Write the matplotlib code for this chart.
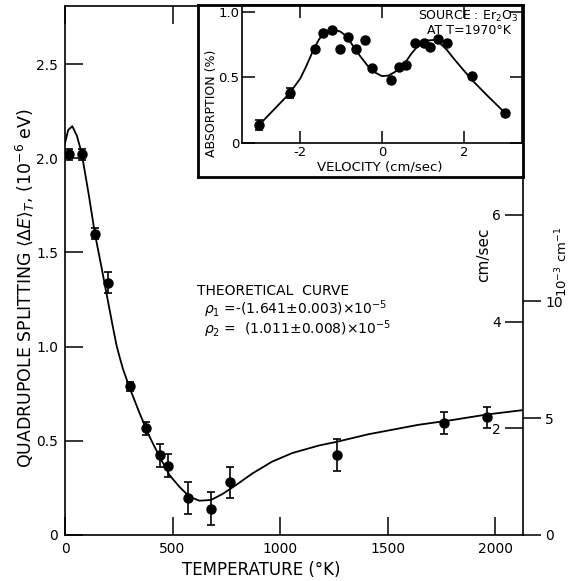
import matplotlib.pyplot as plt

plt.rcParams["font.family"] = ["DejaVu Sans"]
plt.rcParams["mathtext.fontset"] = "dejavusans"

# measured quadrupole splitting (10^-6 eV) against temperature (K)
TEMP_K = [20, 80, 139, 202, 301, 375, 443, 478, 574, 677, 768, 1265, 1762, 1964]
SPLIT = [2.02, 2.02, 1.60, 1.34, 0.79, 0.566, 0.423, 0.368, 0.195, 0.14, 0.28, 0.425, 0.596, 0.625]
SPLIT_ERR = [0.027, 0.027, 0.03, 0.057, 0.024, 0.033, 0.06, 0.06, 0.084, 0.088, 0.082, 0.084, 0.058, 0.055]

# theoretical curve
CURVE_T = [0, 15, 34, 55, 77, 110, 139, 170, 200, 220, 239, 255, 270, 301, 347, 394, 440, 486,
           532, 579, 625, 679, 733, 795, 872, 964, 1057, 1181, 1265, 1412, 1644, 1800, 1964, 2130]
CURVE_E = [2.08, 2.15, 2.17, 2.12, 2.03, 1.81, 1.60, 1.42, 1.24, 1.12, 1.01, 0.94, 0.88, 0.78, 0.646, 0.52,
           0.415, 0.318, 0.256, 0.203, 0.182, 0.186, 0.218, 0.265, 0.327, 0.39, 0.435, 0.475, 0.495,
           0.535, 0.585, 0.61, 0.64, 0.663]

# inset: absorption spectrum at 1970 K
VEL = [-3.0, -2.26, -1.63, -1.45, -1.23, -1.02, -0.84, -0.64, -0.42, -0.24,
       0.22, 0.41, 0.59, 0.80, 1.02, 1.17, 1.37, 1.59, 2.19, 3.0]
ABS = [0.137, 0.38, 0.72, 0.84, 0.86, 0.715, 0.81, 0.715, 0.786, 0.57,
       0.48, 0.58, 0.595, 0.766, 0.766, 0.735, 0.79, 0.766, 0.51, 0.226]
ERR_VEL = [-3.0, -2.26]
ERR_ABS = [0.137, 0.38]
ERR_SIZE = [0.04, 0.04]

FIT_VEL = [-2.95, -2.61, -2.26, -1.995, -1.84, -1.68, -1.55, -1.43, -1.27, -1.15, -1.02, -0.86,
           -0.70, -0.54, -0.37, -0.21, -0.01, 0.15, 0.32, 0.52, 0.72, 0.89, 1.05, 1.25, 1.41,
           1.58, 1.74, 1.98, 2.23, 2.55, 2.88, 3.0]
FIT_ABS = [0.155, 0.265, 0.379, 0.494, 0.595, 0.71, 0.786, 0.837, 0.863, 0.863, 0.85, 0.812,
           0.735, 0.664, 0.595, 0.544, 0.511, 0.514, 0.544, 0.595, 0.685, 0.748, 0.781, 0.786, 0.761,
           0.71, 0.646, 0.557, 0.468, 0.366, 0.265, 0.227]

CM_SEC_PER_UNIT = 3.53
CM_INV_PER_UNIT = 8.0655
Y_TOP = 2.808

W, H = 571, 581


def frac_rect(x0, y0, x1, y1):
    # pixel box (top-left origin) -> figure fraction rect
    return [x0 / W, 1 - y1 / H, (x1 - x0) / W, (y1 - y0) / H]


def main() -> None:
    fig = plt.figure(figsize=(W / 100, H / 100), dpi=100)

    ax = fig.add_axes(frac_rect(65, 6, 523, 535))
    ax.plot(CURVE_T, CURVE_E, color="black", linewidth=1.3)
    ax.errorbar(TEMP_K, SPLIT, yerr=SPLIT_ERR, fmt="o", color="black",
                markersize=6.5, elinewidth=1.2, capsize=3, capthick=1.2)
    ax.set_xlim(0, 2130)
    ax.set_ylim(0, Y_TOP)
    ax.set_xticks([0, 500, 1000, 1500, 2000])
    ax.set_xticklabels(["0", "500", "1000", "1500", "2000"])
    ax.set_yticks([0, 0.5, 1.0, 1.5, 2.0, 2.5])
    ax.set_yticklabels(["0", "0.5", "1.0", "1.5", "2.0", "2.5"])
    ax.tick_params(axis="x", direction="in", length=13, width=1.1, top=True, pad=5, labelsize=10)
    ax.tick_params(axis="y", direction="in", length=13, width=1.1, pad=5, labelsize=10)
    for s in ax.spines.values():
        s.set_linewidth(1.2)

    ax_v = ax.twinx()
    ax_v.set_ylim(0, Y_TOP * CM_SEC_PER_UNIT)
    ax_v.set_yticks([2, 4, 6])
    ax_v.set_yticklabels(["2", "4", "6"])
    ax_v.tick_params(axis="y", direction="in", length=13, width=1.1, pad=-16, labelsize=10)
    for lab in ax_v.get_yticklabels():
        lab.set_horizontalalignment("right")
    for s in ax_v.spines.values():
        s.set_visible(False)

    ax_c = ax.twinx()
    ax_c.set_ylim(0, Y_TOP * CM_INV_PER_UNIT)
    ax_c.set_yticks([0, 5, 10])
    ax_c.set_yticklabels(["0", "5", "10"])
    ax_c.tick_params(axis="y", direction="out", length=13, width=1.1, pad=3, labelsize=10)
    for s in ax_c.spines.values():
        s.set_visible(False)

    fig.text(261 / W, 1 - 570 / H, "TEMPERATURE (°K)", fontsize=12, ha="center", va="center")
    fig.text(25 / W, 1 - 288 / H,
             r"QUADRUPOLE SPLITTING $\langle\Delta E\rangle_T$, (10$^{-6}$ eV)",
             fontsize=12.5, rotation=90, ha="center", va="center")
    fig.text(484 / W, 1 - 255 / H, "cm/sec", fontsize=11, rotation=90, ha="center", va="center")
    fig.text(562 / W, 1 - 262 / H, r"10$^{-3}$ cm$^{-1}$", fontsize=9.5, rotation=90,
             ha="center", va="center")

    ax.text(616, 1.295, "THEORETICAL  CURVE", fontsize=10, ha="left", va="center")
    ax.text(648, 1.200, r"$\rho_1$ =-(1.641$\pm$0.003)$\times$10$^{-5}$", fontsize=10,
            ha="left", va="center")
    ax.text(648, 1.095, r"$\rho_2$ =  (1.011$\pm$0.008)$\times$10$^{-5}$", fontsize=10,
            ha="left", va="center")

    # inset frame
    box = fig.add_axes(frac_rect(198, 5, 523, 177))
    box.set_xticks([])
    box.set_yticks([])
    for s in box.spines.values():
        s.set_linewidth(2.0)

    ax_in = fig.add_axes(frac_rect(242, 5, 522, 143))
    ax_in.patch.set_alpha(0)
    ax_in.plot(FIT_VEL, FIT_ABS, color="black", linewidth=1.3)
    ax_in.plot(VEL, ABS, "o", color="black", markersize=6.5)
    ax_in.errorbar(ERR_VEL, ERR_ABS, yerr=ERR_SIZE, fmt="none", ecolor="black",
                   elinewidth=1.2, capsize=3, capthick=1.2)
    ax_in.set_xlim(-3.42, 3.41)
    ax_in.set_ylim(0, 1.053)
    ax_in.set_xticks([-2, 0, 2])
    ax_in.set_xticklabels(["-2", "0", "2"])
    ax_in.set_yticks([0, 0.5, 1.0])
    ax_in.set_yticklabels(["0", "0.5", "1.0"])
    ax_in.tick_params(direction="in", length=9, width=1.1, top=True, right=True, pad=2, labelsize=9.5)
    for s in ax_in.spines.values():
        s.set_linewidth(1.2)

    fig.text(380 / W, 1 - 167 / H, "VELOCITY (cm/sec)", fontsize=9.5, ha="center", va="center")
    fig.text(212 / W, 1 - 103 / H, "ABSORPTION (%)", fontsize=9, rotation=90, ha="center", va="center")
    fig.text(518 / W, 1 - 16 / H, r"SOURCE : Er$_2$O$_3$", fontsize=9, ha="right", va="center")
    fig.text(511 / W, 1 - 31 / H, "AT T=1970°K", fontsize=9, ha="right", va="center")

    fig.savefig("out.png", dpi=100)
    plt.close(fig)


if __name__ == "__main__":
    main()
